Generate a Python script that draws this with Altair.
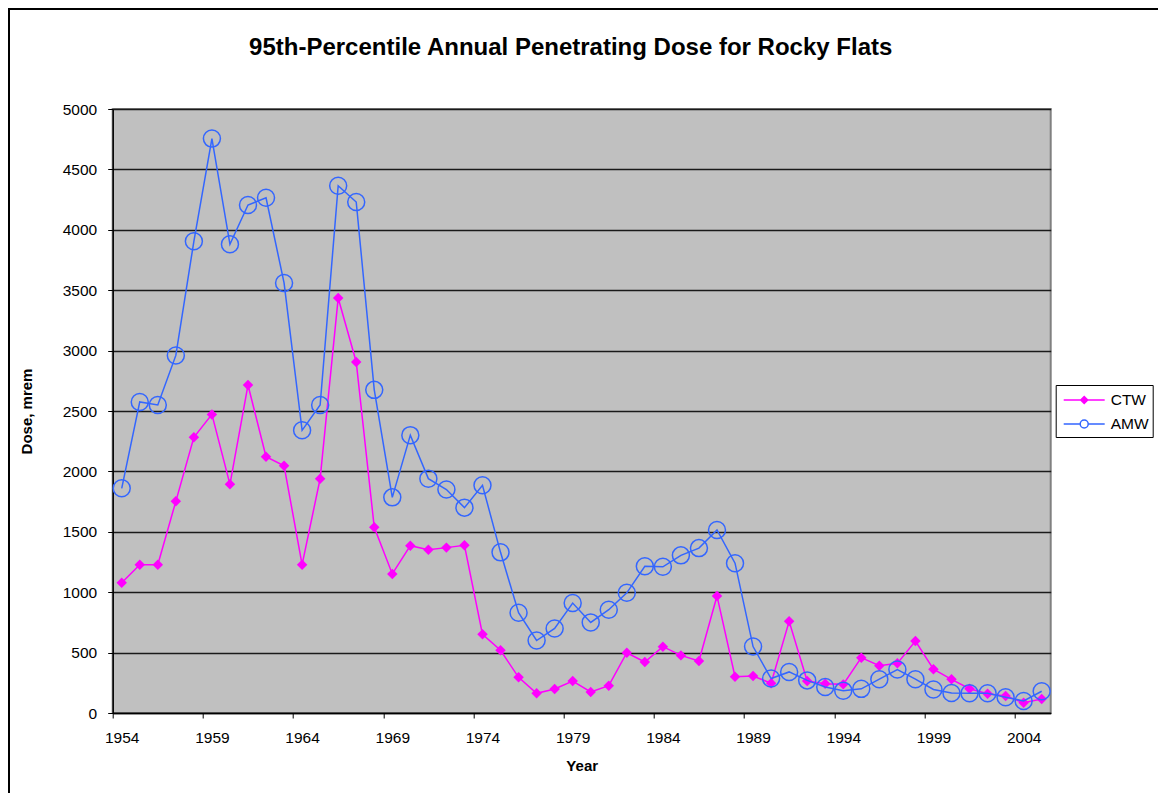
import altair as alt
import pandas as pd

years = list(range(1954, 2006))
ctw = [1079, 1228, 1228, 1752, 2282, 2472, 1893, 2715, 2122, 2047,
       1228, 1940, 3435, 2906, 1537, 1151, 1385, 1352, 1369, 1388,
       651, 519, 295, 163, 199, 265, 174, 226, 499, 422,
       549, 477, 430, 969, 301, 306, 246, 759, 265, 243,
       237, 458, 392, 411, 596, 362, 279, 201, 160, 141,
       85, 116]
amw = [1860, 2575, 2550, 2960, 3905, 4755, 3880, 4205, 4265, 3560,
       2340, 2550, 4365, 4230, 2675, 1785, 2300, 1940, 1850, 1700,
       1885, 1330, 830, 600, 700, 910, 750, 855, 995, 1215,
       1210, 1305, 1365, 1515, 1240, 550, 285, 340, 270, 215,
       185, 200, 280, 360, 280, 195, 165, 163, 163, 130,
       100, 180]
series_names = ["CTW", "AMW"]
series_colors = ["#FF00FF", "#3366FF"]
x_tick_years = list(range(1954, 2005, 5))
y_ticks = list(range(0, 5001, 500))

FONT = "Liberation Sans"

df = pd.DataFrame({
    "Year": years * 2,
    "Dose": ctw + amw,
    "Series": ["CTW"] * len(years) + ["AMW"] * len(years),
})

# legend symbols: line with marker (custom SVG paths, unit = 10 px)
path_ctw = ("M-0.7,0H3.4"
            "M1.0,0L1.35,-0.35L1.7,0L1.35,0.35Z"
            "M1.1,0L1.35,-0.25L1.6,0L1.35,0.25Z"
            "M1.2,0L1.35,-0.15L1.5,0L1.35,0.15Z"
            "M1.3,0L1.35,-0.05L1.4,0L1.35,0.05Z")
path_amw = ("M-0.7,0H0.95M1.75,0H3.4"
            "M0.95,0A0.4,0.4 0 1,0 1.75,0A0.4,0.4 0 1,0 0.95,0Z")

x_enc = alt.X(
    "Year:Q",
    scale=alt.Scale(domain=[1953.5, 2005.5], nice=False, zero=False),
    axis=alt.Axis(values=x_tick_years, format="d", title="Year",
                  tickOffset=-9, labelOffset=9, grid=False,
                  labelFont=FONT, labelFontSize=15.5,
                  labelPadding=12, titleX=469, titleY=57,
                  titleBaseline="alphabetic"),
)
y_enc = alt.Y(
    "Dose:Q",
    scale=alt.Scale(domain=[0, 5000], nice=False),
    axis=alt.Axis(values=y_ticks, format="d", title="Dose, mrem", grid=True,
                  labelFont=FONT, labelFontSize=15.5,
                  labelPadding=11, titleX=-86, titleY=302, titleAngle=270,
                  titleAlign="center", titleBaseline="middle"),
)

base = alt.Chart(df)

frame = alt.Chart(pd.DataFrame({"k": [0]})).mark_rect(
    fill="white", fillOpacity=0, stroke="black", strokeWidth=4
).encode(
    x=alt.value(-104.7), x2=alt.value(1300),
    y=alt.value(-101), y2=alt.value(900),
)

line_ctw = base.transform_filter("datum.Series == 'CTW'").mark_line(
    color=series_colors[0], strokeWidth=1.5).encode(x=x_enc, y=y_enc)
pts_ctw = base.transform_filter("datum.Series == 'CTW'").mark_point(
    shape="diamond", filled=True, size=110, color=series_colors[0], opacity=1
).encode(x=x_enc, y=y_enc)
line_amw = base.transform_filter("datum.Series == 'AMW'").mark_line(
    color=series_colors[1], strokeWidth=1.5).encode(x=x_enc, y=y_enc)
pts_amw = base.transform_filter("datum.Series == 'AMW'").mark_point(
    shape="circle", filled=False, size=289, color=series_colors[1],
    strokeWidth=1.5, opacity=1
).encode(x=x_enc, y=y_enc)

legend_layer = base.mark_point(size=0, opacity=0, filled=False).encode(
    x=x_enc, y=y_enc,
    color=alt.Color("Series:N",
                    scale=alt.Scale(domain=series_names, range=series_colors),
                    legend=alt.Legend(title=None)),
    shape=alt.Shape("Series:N",
                    scale=alt.Scale(domain=series_names, range=[path_ctw, path_amw]),
                    legend=alt.Legend(title=None)),
)

chart = alt.layer(frame, line_ctw, pts_ctw, line_amw, pts_amw, legend_layer).properties(
    width=938,
    height=604,
    autosize=alt.AutoSizeParams(type="none"),
    padding={"left": 104.7, "top": 101, "right": 107.3, "bottom": 80},
    background="white",
    title=alt.TitleParams(
        "95th-Percentile Annual Penetrating Dose for Rocky Flats",
        font=FONT, fontSize=24, fontWeight="bold", color="black",
        anchor="middle", dx=-11, dy=73, offset=0, frame="group",
        baseline="alphabetic",
    ),
).configure_view(
    fill="#C0C0C0", stroke="#808080", strokeWidth=2
).configure_axis(
    labelFont=FONT, labelFontSize=15.5, labelColor="black",
    titleFont=FONT, titleFontSize=15, titleFontWeight="bold", titleColor="black",
    domainColor="black", domainWidth=1.5, tickColor="black", tickSize=5,
    tickWidth=1, gridColor="#1a1a1a", gridWidth=1.3,
).configure_legend(
    orient="none", legendX=943, legendY=276,
    strokeColor="black", fillColor="white", padding=4,
    symbolSize=400, symbolStrokeWidth=1.5, symbolOpacity=1,
    labelFont=FONT, labelFontSize=15.5, labelColor="black",
    labelOffset=29, rowPadding=4,
)

chart.save("out.html", embed_options={"renderer": "svg", "actions": False})
